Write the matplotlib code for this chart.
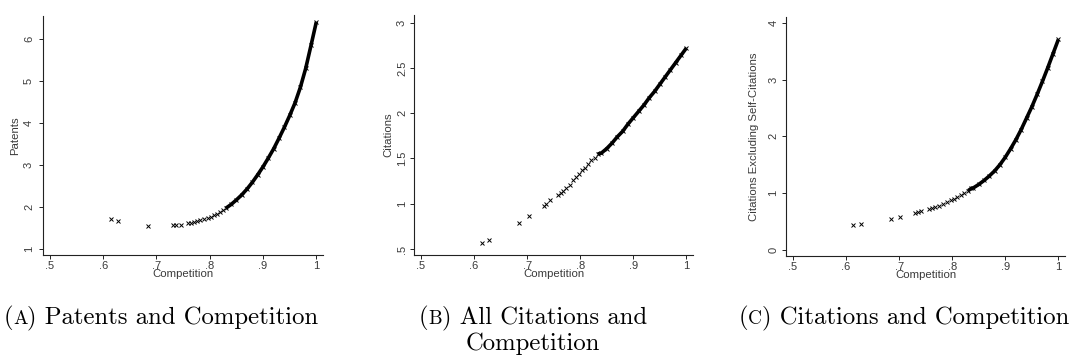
import matplotlib
matplotlib.use("Agg")
import matplotlib.pyplot as plt
from matplotlib.offsetbox import TextArea, HPacker, VPacker, AnnotationBbox

# ---- data -----------------------------------------------------------------
comp_a = [0.615, 0.628, 0.684, 0.731, 0.737, 0.746, 0.760, 0.765, 0.770, 0.776,
          0.782, 0.790, 0.796, 0.802, 0.808, 0.814, 0.820, 0.825,
          0.83, 0.84, 0.85, 0.86, 0.87, 0.88, 0.89, 0.90, 0.91, 0.92,
          0.93, 0.94, 0.95, 0.96, 0.97, 0.98, 0.99, 1.00]
patents = [1.72, 1.67, 1.54, 1.57, 1.57, 1.58, 1.62, 1.63, 1.64, 1.66,
           1.68, 1.71, 1.74, 1.77, 1.80, 1.84, 1.88, 1.92,
           1.97, 2.06, 2.17, 2.29, 2.43, 2.59, 2.77, 2.96, 3.17, 3.39,
           3.64, 3.90, 4.18, 4.48, 4.85, 5.30, 5.85, 6.41]

comp_b = [0.615, 0.628, 0.684, 0.703, 0.731, 0.736, 0.743, 0.758, 0.763, 0.768,
          0.773, 0.780, 0.786, 0.792, 0.797, 0.803, 0.809, 0.815, 0.821, 0.827,
          0.833,
          0.84, 0.85, 0.86, 0.87, 0.88, 0.89, 0.90, 0.91, 0.92, 0.93,
          0.94, 0.95, 0.96, 0.97, 0.98, 0.99, 1.00]
citations = [0.563, 0.60, 0.79, 0.865, 0.98, 1.00, 1.04, 1.10, 1.12, 1.14,
             1.17, 1.21, 1.26, 1.30, 1.33, 1.37, 1.40, 1.44, 1.48, 1.51,
             1.55,
             1.56, 1.61, 1.67, 1.74, 1.80, 1.88, 1.95, 2.02, 2.09, 2.17,
             2.24, 2.32, 2.40, 2.48, 2.56, 2.64, 2.72]

comp_c = [0.614, 0.628, 0.684, 0.702, 0.730, 0.736, 0.742, 0.757, 0.762, 0.768,
          0.775, 0.782, 0.790, 0.797, 0.803, 0.810, 0.817, 0.823, 0.830, 0.836,
          0.84, 0.85, 0.86, 0.87, 0.88, 0.89, 0.90, 0.91, 0.92, 0.93,
          0.94, 0.95, 0.96, 0.97, 0.98, 0.99, 1.00]
cit_noself = [0.44, 0.46, 0.535, 0.575, 0.64, 0.655, 0.68, 0.71, 0.73, 0.75,
              0.77, 0.80, 0.84, 0.87, 0.90, 0.93, 0.97, 1.00, 1.04, 1.08,
              1.09, 1.15, 1.22, 1.30, 1.39, 1.50, 1.63, 1.78, 1.94, 2.12,
              2.32, 2.52, 2.74, 2.97, 3.21, 3.46, 3.71]

x_ticks = [0.5, 0.6, 0.7, 0.8, 0.9, 1.0]
x_ticklabels = [".5", ".6", ".7", ".8", ".9", "1"]

yticks_a = [1, 2, 3, 4, 5, 6]
yticklabels_a = ["1", "2", "3", "4", "5", "6"]
yticks_b = [0.5, 1.0, 1.5, 2.0, 2.5, 3.0]
yticklabels_b = [".5", "1", "1.5", "2", "2.5", "3"]
yticks_c = [0, 1, 2, 3, 4]
yticklabels_c = ["0", "1", "2", "3", "4"]

x_title = "Competition"
y_titles = ["Patents", "Citations", "Citations Excluding Self-Citations"]
captions = [("A", ") Patents and Competition", None),
            ("B", ") All Citations and", "Competition"),
            ("C", ") Citations and Competition", None)]

# ---- figure ---------------------------------------------------------------
W, H = 1072, 361
fig = plt.figure(figsize=(W / 100, H / 100), dpi=100)
fig.patch.set_facecolor("white")

text_col = "#3a3a3a"
sans = ["Liberation Sans", "DejaVu Sans"]

panels = [
    # x, values, yticks, yticklabels, ylim, axes rect (px), tick pad, label pad
    (comp_a, patents, yticks_a, yticklabels_a, (0.857, 6.55),
     (43, 16, 323, 255), 3.5, 3.0),
    (comp_b, citations, yticks_b, yticklabels_b, (0.434, 3.085),
     (414, 15, 693, 255), 2.0, 2.5),
    (comp_c, cit_noself, yticks_c, yticklabels_c, (-0.113, 4.106),
     (786, 17, 1065, 256), 2.5, 6.5),
]

for i, (xs, ys, yt, ytl, ylim, rect, tpad, lpad) in enumerate(panels):
    l, t, r, b = rect
    ax = fig.add_axes([l / W, (H - b) / H, (r - l) / W, (b - t) / H])
    ax.set_xlim(0.487, 1.0125)
    ax.set_ylim(*ylim)

    # dense part of the fitted values forms a solid band
    dense_x = [x for x in xs if x >= 0.828]
    dense_y = [y for x, y in zip(xs, ys) if x >= 0.828]
    ax.plot(dense_x, dense_y, color="black", lw=2.6, solid_capstyle="butt",
            zorder=2)
    ax.plot(xs, ys, linestyle="none", marker="x", markersize=2.6,
            markeredgewidth=0.7, color="black", zorder=3)

    for side in ("top", "right"):
        ax.spines[side].set_visible(False)
    for side in ("left", "bottom"):
        ax.spines[side].set_color("#222222")
        ax.spines[side].set_linewidth(0.8)

    ax.set_xticks(x_ticks)
    ax.set_xticklabels(x_ticklabels)
    ax.set_yticks(yt)
    ax.set_yticklabels(ytl)
    ax.tick_params(axis="both", direction="out", length=3, width=0.7,
                   color="#222222", labelsize=8, labelcolor=text_col)
    ax.tick_params(axis="x", pad=1.2)
    ax.tick_params(axis="y", pad=tpad, labelrotation=90)
    for lab in ax.get_yticklabels():
        lab.set_verticalalignment("center")
    for lab in ax.get_xticklabels() + ax.get_yticklabels():
        lab.set_fontfamily(sans)

    ax.set_xlabel(x_title, fontsize=8.2, color=text_col, family=sans,
                  labelpad=-1.5)
    ax.set_ylabel(y_titles[i], fontsize=8.2, color=text_col, family=sans,
                  labelpad=lpad)

# ---- sub-captions -----------------------------------------------------------
cap_size = 17.8
serif = dict(fontfamily="cmr10", fontsize=cap_size, color="black")
smallcap = dict(fontfamily="cmr10", fontsize=cap_size * 0.78, color="black")
cap_centers = [161, 533, 904]

for (letter, rest, second), cx in zip(captions, cap_centers):
    row = HPacker(children=[TextArea("(", textprops=serif),
                            TextArea(letter, textprops=smallcap),
                            TextArea(rest, textprops=serif)],
                  align="baseline", pad=0, sep=0)
    if second is not None:
        box = VPacker(children=[row, TextArea(second, textprops=serif)],
                      align="center", pad=0, sep=2)
    else:
        box = row
    ab = AnnotationBbox(box, (cx / W, (H - 305) / H), xycoords="figure fraction",
                        box_alignment=(0.5, 1.0), frameon=False, pad=0)
    fig.add_artist(ab)

fig.savefig("out.png", dpi=100, facecolor="white")
